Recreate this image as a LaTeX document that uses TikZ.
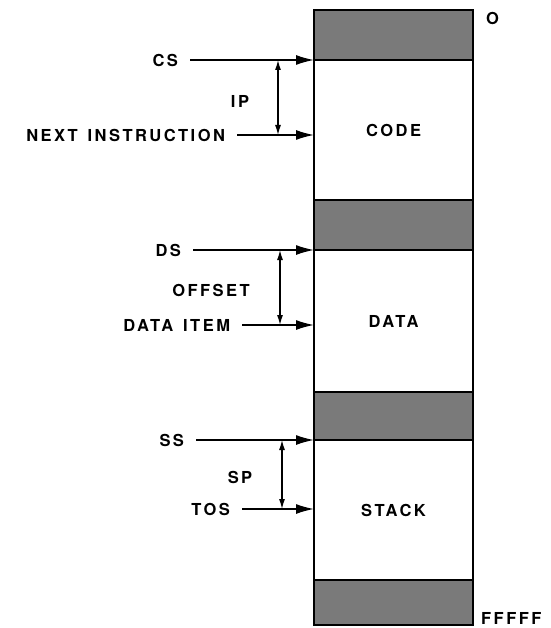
\documentclass[tikz,border=0pt]{standalone}
\usepackage{fontspec}
\newfontfamily\regfont{TeX Gyre Heros}[LetterSpace=15]
\usetikzlibrary{arrows.meta,positioning}

\begin{document}
\begin{tikzpicture}[
    x=1pt, y=-1pt,
    every node/.style={font=\regfont\bfseries\fontsize{16.5}{19}\selectfont},
    band/.style={draw, line width=2.4pt, fill=black!52, minimum width=159pt,
                 minimum height=#1, inner sep=0pt, outer sep=0pt},
    seg/.style={draw, line width=2.4pt, fill=white, minimum width=159pt,
                minimum height=#1, inner sep=0pt, outer sep=0pt},
    reg/.style={anchor=east, inner sep=0pt, outer sep=12pt},
    note/.style={inner sep=0pt},
    ptr/.style={-{Latex[length=18pt,width=10pt]}, line width=1.5pt},
    span/.style={{Latex[length=10pt,width=6pt]}-{Latex[length=10pt,width=6pt]},
                 line width=1.2pt}
]
\useasboundingbox (0,0) rectangle (550,628);

% Memory column
\node[band=50pt] (b1) at (393.5,35) {};
\node[seg=140pt, below=0pt of b1] (code) {CODE};
\node[band=50pt, below=0pt of code] (b2) {};
\node[seg=142pt, below=0pt of b2] (data) {DATA};
\node[band=48pt, below=0pt of data] (b3) {};
\node[seg=140pt, below=0pt of b3] (stack) {STACK};
\node[band=45pt, below=0pt of stack] (b4) {};

% Addresses
\node[note, anchor=west] (lo) at (486,18) {O};
\node[note, anchor=west] (hi) at (481,618) {FFFFF};

% Code segment
\node[reg] (cs) at (190,60) {CS};
\node[reg] (ni) at (237,135) {NEXT\hspace{0.6em}INSTRUCTION};
\draw[ptr] (cs.east) -- (cs.east -| code.west);
\draw[ptr] (ni.east) -- (ni.east -| code.west);
\coordinate (ipx) at (278,0);
\draw[span] (ipx |- cs.east) -- (ipx |- ni.east);
\node[note] (ip) at (240,101) {IP};

% Data segment
\node[reg] (ds) at (193,250) {DS};
\node[reg] (di) at (242,325) {DATA\hspace{0.6em}ITEM};
\draw[ptr] (ds.east) -- (ds.east -| data.west);
\draw[ptr] (di.east) -- (di.east -| data.west);
\coordinate (ofx) at (280,0);
\draw[span] (ofx |- ds.east) -- (ofx |- di.east);
\node[note] (off) at (211,290) {OFFSET};

% Stack segment
\node[reg] (ss) at (196,440) {SS};
\node[reg] (tos) at (242,509) {TOS};
\draw[ptr] (ss.east) -- (ss.east -| stack.west);
\draw[ptr] (tos.east) -- (tos.east -| stack.west);
\coordinate (spx) at (282,0);
\draw[span] (spx |- ss.east) -- (spx |- tos.east);
\node[note] (sp) at (240,477) {SP};

\end{tikzpicture}
\end{document}
